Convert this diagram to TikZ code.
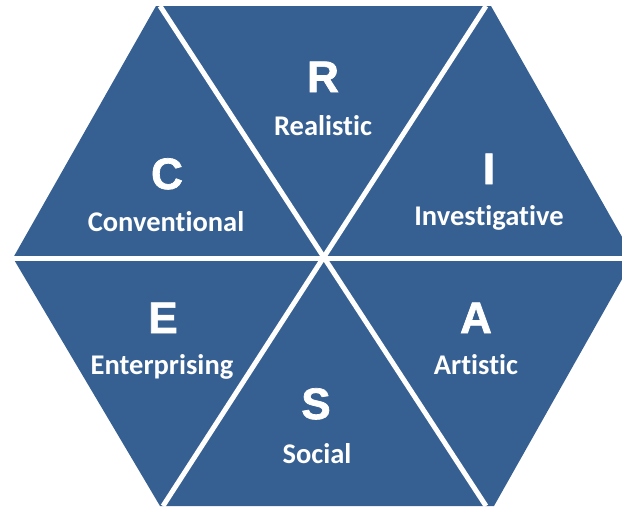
\documentclass[tikz,border=0pt]{standalone}
\usepackage{fontspec}
\setmainfont[Ligatures=NoCommon]{Carlito}
\newfontfamily\letterfont[BoldFeatures={FakeBold=1.6}]{Liberation Sans}
\definecolor{hexblue}{RGB}{55,96,146}
\begin{document}
\begin{tikzpicture}[x=1pt,y=-1pt,
  spoke/.style={white,line width=5pt},
  bigletter/.style={text=white,anchor=base,inner sep=0pt,font=\letterfont\bfseries\fontsize{44}{44}\selectfont},
  label/.style={text=white,anchor=base,inner sep=0pt,font=\bfseries\fontsize{28.5}{29}\selectfont}]
\useasboundingbox (0,0) rectangle (622,507);
\clip (0,0) rectangle (622,507);
\coordinate (vTL) at (156,6);
\coordinate (vTR) at (491,6);
\coordinate (vR) at (634,258);
\coordinate (vBR) at (494,506);
\coordinate (vBL) at (160,506);
\coordinate (vL) at (13,258);
\coordinate (ctr) at (323,258);
\coordinate (sTL) at (160,6);
\coordinate (sTR) at (486,6);
\coordinate (sBL) at (163,506);
\coordinate (sBR) at (486,506);
\coordinate (sR) at (640,258);
\fill[hexblue] (vTL) -- (vTR) -- (vR) -- (vBR) -- (vBL) -- (vL) -- cycle;
\draw[spoke] (sTL) -- (sBR);
\draw[spoke] (sTR) -- (sBL);
\draw[spoke] (vL) -- (sR);
\node[bigletter] (R) at (323,92) {R};
\node[label] (Rl) at (323,135) {Realistic};
\node[bigletter] (C) at (167,189) {C};
\node[label] (Cl) at (166,231) {Conventional};
\node[bigletter] (I) at (489,184) {I};
\node[label] (Il) at (489,225) {Investigative};
\node[bigletter] (E) at (163,333) {E};
\node[label] (El) at (162,374) {Enterprising};
\node[bigletter] (A) at (476,333) {A};
\node[label] (Al) at (476,374) {Artistic};
\node[bigletter] (S) at (316,419) {S};
\node[label] (Sl) at (317,463) {Social};
\end{tikzpicture}
\end{document}
